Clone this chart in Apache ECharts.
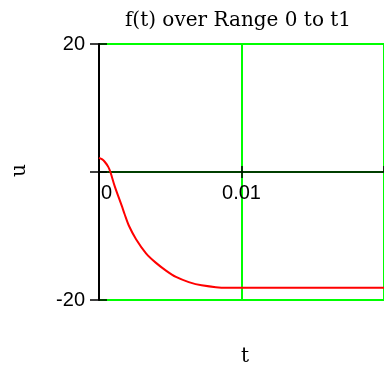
<!DOCTYPE html>
<html>
<head>
<meta charset="utf-8">
<script src="https://cdn.jsdelivr.net/npm/echarts@6/dist/echarts.min.js"></script>
<style>html,body{margin:0;padding:0;background:#fff;}#c{width:384px;height:367px;}</style>
</head>
<body>
<div id="c"></div>
<script>
var titleText = 'f(t) over Range 0 to t1';
var xName = 't';
var yName = 'u';
var tValues = [0, 0.0002, 0.0004, 0.00065, 0.0008, 0.0011, 0.0016, 0.0018, 0.0021, 0.0026, 0.0033, 0.004, 0.0047, 0.0054, 0.0063, 0.0072, 0.0089, 0.012, 0.016, 0.02];
var uValues = [2.2, 2.0, 1.6, 0.8, 0, -2.2, -5.3, -6.6, -8.4, -10.5, -12.7, -14.2, -15.4, -16.4, -17.2, -17.7, -18.1, -18.1, -18.1, -18.1];
var xTicks = [0, 0.01, 0.02];
var yTicks = [-20, 0, 20];

var GREEN = '#00ff00';
var labelFont = '"Liberation Sans", Arial, sans-serif';
var serifFont = '"DejaVu Serif", serif';

var chart = echarts.init(document.getElementById('c'), null, {renderer: 'canvas'});
var data = tValues.map(function (t, i) { return [t, uValues[i]]; });

var GRID_TOP = 44, GRID_BOTTOM = 67;
var plotH = 367 - GRID_TOP - GRID_BOTTOM;
// place x axis line at u = 0 (the middle of the symmetric y range)
var zeroOffset = -plotH * (0 - yTicks[0]) / (yTicks[yTicks.length - 1] - yTicks[0]);

var xBase = {
  type: 'value', min: xTicks[0], max: xTicks[xTicks.length - 1], interval: xTicks[1] - xTicks[0],
  position: 'bottom', offset: zeroOffset
};
var yBase = {
  type: 'value', min: yTicks[0], max: yTicks[yTicks.length - 1], interval: yTicks[1] - yTicks[0],
  position: 'left'
};

chart.setOption({
  animation: false,
  backgroundColor: '#fff',
  title: {
    text: titleText, left: 238, top: 11, textAlign: 'center', padding: 0,
    textStyle: {fontFamily: serifFont, fontSize: 20, fontWeight: 'normal', color: '#000'}
  },
  grid: {left: 99, right: -3, top: GRID_TOP, bottom: GRID_BOTTOM, containLabel: false},
  xAxis: [
    Object.assign({}, xBase, {
      axisLine: {onZero: false, lineStyle: {color: '#000', width: 1.5}},
      axisTick: {show: true, inside: false, length: 6, lineStyle: {color: '#000', width: 1.5}},
      axisLabel: {
        show: true, margin: 11, color: '#000', fontFamily: labelFont, fontSize: 20,
        alignMinLabel: 'left', showMaxLabel: false,
        formatter: function (v) { return v === 0 ? '{z|0}' : String(+v.toFixed(4)); },
        rich: {z: {fontFamily: labelFont, fontSize: 20, color: '#000', padding: [0, 0, 0, 2]}}
      },
      splitLine: {show: true, lineStyle: {color: GREEN, width: 2}}
    }),
    Object.assign({}, xBase, {
      axisLine: {show: false, onZero: false},
      axisTick: {show: true, inside: true, length: 6, lineStyle: {color: '#000', width: 1.5}},
      axisLabel: {show: false},
      splitLine: {show: false}
    })
  ],
  yAxis: [
    Object.assign({}, yBase, {
      axisLine: {onZero: false, lineStyle: {color: '#000', width: 2}},
      axisTick: {show: true, inside: false, length: 9, lineStyle: {color: '#000', width: 1.5}},
      axisLabel: {
        show: true, margin: 14, color: '#000', fontFamily: labelFont, fontSize: 20,
        formatter: function (v) { return v === 0 ? '' : String(v); }
      },
      splitLine: {show: true, lineStyle: {color: GREEN, width: 2}}
    }),
    Object.assign({}, yBase, {
      axisLine: {show: false},
      axisTick: {show: true, inside: true, length: 8, lineStyle: {color: '#000', width: 1.5}},
      axisLabel: {show: false},
      splitLine: {show: false}
    })
  ],
  graphic: [
    {type: 'text', left: 10, top: 164, rotation: Math.PI / 2,
     style: {text: yName, font: '20px ' + serifFont, fill: '#000'}},
    {type: 'text', left: 241, top: 347,
     style: {text: xName, font: '20px ' + serifFont, fill: '#000'}}
  ],
  series: [{
    type: 'line', xAxisIndex: 0, yAxisIndex: 0, data: data,
    showSymbol: false, smooth: 0.3, clip: true,
    lineStyle: {color: '#ff0000', width: 2}
  }]
});
</script>
</body>
</html>
